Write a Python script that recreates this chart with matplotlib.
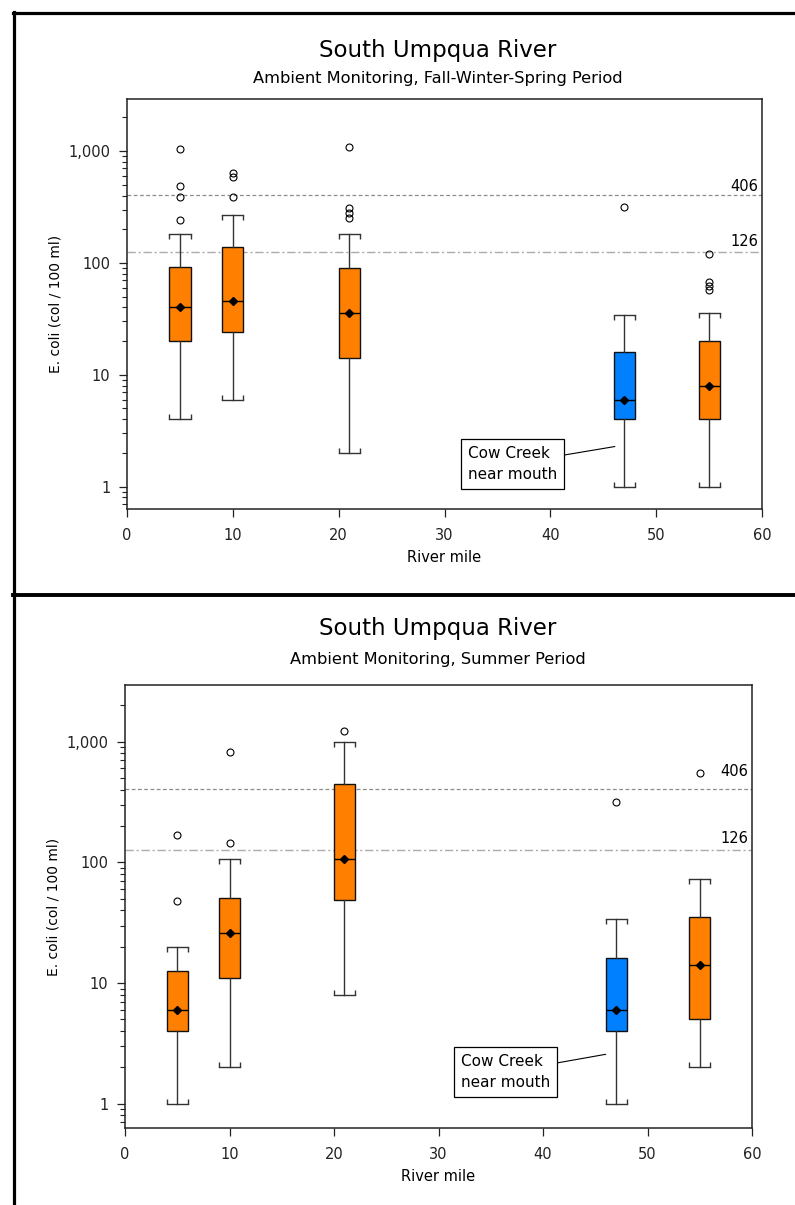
import matplotlib
matplotlib.use('Agg')
import matplotlib.pyplot as plt
from matplotlib.lines import Line2D
from matplotlib.markers import TICKUP, TICKDOWN
from matplotlib.ticker import FixedLocator, FuncFormatter, LogLocator, NullFormatter

plt.rcParams['font.family'] = 'DejaVu Sans'

# station river miles; mile 47 is Cow Creek near its mouth
miles = [5, 10, 21, 47, 55]
box_colors = ['#ff8000', '#ff8000', '#ff8000', '#0080ff', '#ff8000']

# fall-winter-spring period, E. coli col/100 ml
fws_whislo = [4, 6, 2, 1, 1]
fws_q1 = [20, 24, 14, 4, 4]
fws_med = [40, 46, 36, 6, 8]
fws_q3 = [91, 140, 90, 16, 20]
fws_whishi = [182, 270, 180, 34, 36]
fws_fliers = [[240, 388, 484, 1050], [388, 586, 637], [252, 277, 310, 1090],
              [315], [57, 62, 68, 120]]

# summer period
sum_whislo = [1, 2, 8, 1, 2]
sum_q1 = [4, 11, 49, 4, 5]
sum_med = [6, 26, 107, 6, 14]
sum_q3 = [12.5, 51, 447, 16, 35]
sum_whishi = [20, 106, 1000, 34, 73]
sum_fliers = [[48, 168], [146, 826], [1220], [317], [555]]

# water quality criteria
crit_single = 406
crit_geomean = 126

W, H = 795, 1205
fig = plt.figure(figsize=(W / 100, H / 100), dpi=100)


def draw_panel(ax, whislo, q1, med, q3, whishi, fliers, note_xy, note_txt_xy, lab_off):
    stats = [dict(whislo=a, q1=b, med=c, q3=d, whishi=e, fliers=f)
             for a, b, c, d, e, f in zip(whislo, q1, med, q3, whishi, fliers)]
    bp = ax.bxp(stats, positions=miles, widths=2, capwidths=2, patch_artist=True,
                manage_ticks=False,
                boxprops=dict(edgecolor='#111111', linewidth=1.0),
                whiskerprops=dict(color='#333333', linewidth=1.0),
                capprops=dict(color='#333333', linewidth=1.0),
                medianprops=dict(color='black', linewidth=1.0),
                flierprops=dict(marker='o', markerfacecolor='none',
                                markeredgecolor='black', markersize=5,
                                markeredgewidth=0.8))
    for patch, c in zip(bp['boxes'], box_colors):
        patch.set_facecolor(c)

    # short end ticks on the caps, turned toward the box
    for x, lo, hi in zip(miles, whislo, whishi):
        ax.plot([x - 1, x + 1], [hi, hi], ls='none', marker=TICKDOWN,
                ms=3.5, mew=1.0, color='#333333')
        ax.plot([x - 1, x + 1], [lo, lo], ls='none', marker=TICKUP,
                ms=3.5, mew=1.0, color='#333333')

    ax.plot(miles, med, ls='none', marker='D', ms=4.2, color='black', zorder=5)

    ax.axhline(crit_single, color='#8c8c8c', lw=0.9, ls=(0, (3, 2)), zorder=1)
    ax.axhline(crit_geomean, color='#ababab', lw=1.0, ls=(0, (6, 2, 1.5, 2)), zorder=1)
    ax.annotate(str(crit_single), xy=(1, crit_single),
                xycoords=('axes fraction', 'data'), xytext=(-3, lab_off[0]),
                textcoords='offset points', ha='right', va='bottom', fontsize=10.5)
    ax.annotate(str(crit_geomean), xy=(1, crit_geomean),
                xycoords=('axes fraction', 'data'), xytext=(-3, lab_off[1]),
                textcoords='offset points', ha='right', va='bottom', fontsize=10.5)

    ax.annotate('Cow Creek\nnear mouth', xy=note_xy, xytext=note_txt_xy,
                textcoords='data', ha='center', va='center', multialignment='left',
                fontsize=11, linespacing=1.5,
                bbox=dict(boxstyle='square,pad=0.45', fc='white', ec='black', lw=0.9),
                arrowprops=dict(arrowstyle='-', color='black', lw=0.8,
                                shrinkA=0, shrinkB=0))

    ax.set_yscale('log')
    ax.set_ylim(0.63, 2950)
    ax.set_xlim(0, 60)
    ax.set_xticks(range(0, 61, 10))
    ax.yaxis.set_major_locator(FixedLocator([1, 10, 100, 1000]))
    ax.yaxis.set_major_formatter(FuncFormatter(lambda v, p: f'{int(round(v)):,}'))
    ax.yaxis.set_minor_locator(LogLocator(base=10, subs=range(2, 10)))
    ax.yaxis.set_minor_formatter(NullFormatter())
    ax.tick_params(axis='both', which='major', direction='out', length=6,
                   width=0.9, colors='#222222', labelsize=10.5)
    ax.tick_params(axis='x', which='major', pad=8)
    ax.tick_params(axis='y', which='major', pad=6)
    ax.tick_params(axis='y', which='minor', direction='out', length=3.5,
                   width=0.8, colors='#222222')
    for s in ax.spines.values():
        s.set_linewidth(1.1)
        s.set_color('#222222')
    ax.set_xlabel('River mile', fontsize=10.5, labelpad=5)
    ax.set_ylabel('E. coli (col / 100 ml)', fontsize=10, labelpad=4)


ax1 = fig.add_axes([127 / W, 1 - 509 / H, 635 / W, 410.5 / H])
draw_panel(ax1, fws_whislo, fws_q1, fws_med, fws_q3, fws_whishi, fws_fliers,
           (46.1, 2.28), (36.4, 1.6), (0.5, 2))

ax2 = fig.add_axes([125 / W, 1 - 1128 / H, 627 / W, 443 / H])
draw_panel(ax2, sum_whislo, sum_q1, sum_med, sum_q3, sum_whishi, sum_fliers,
           (46.0, 2.57), (36.4, 1.83), (7, 3))

# titles
fig.text(438 / W, 1 - 57 / H, 'South Umpqua River', ha='center', va='baseline', fontsize=16.5)
fig.text(438 / W, 1 - 83.5 / H, 'Ambient Monitoring, Fall-Winter-Spring Period',
         ha='center', va='baseline', fontsize=11.7)
fig.text(438 / W, 1 - 635 / H, 'South Umpqua River', ha='center', va='baseline', fontsize=16.5)
fig.text(438 / W, 1 - 664 / H, 'Ambient Monitoring, Summer Period',
         ha='center', va='baseline', fontsize=11.7)

# panel frame lines
fig.add_artist(Line2D([12.5 / W, 1], [1 - 13 / H] * 2, lw=2.3, color='black',
                      transform=fig.transFigure))
fig.add_artist(Line2D([12.5 / W, 1], [1 - 595 / H] * 2, lw=2.8, color='black',
                      transform=fig.transFigure))
fig.add_artist(Line2D([13.5 / W] * 2, [0, 1 - 12 / H], lw=2.3, color='black',
                      transform=fig.transFigure))

fig.savefig('out.png', dpi=100)
